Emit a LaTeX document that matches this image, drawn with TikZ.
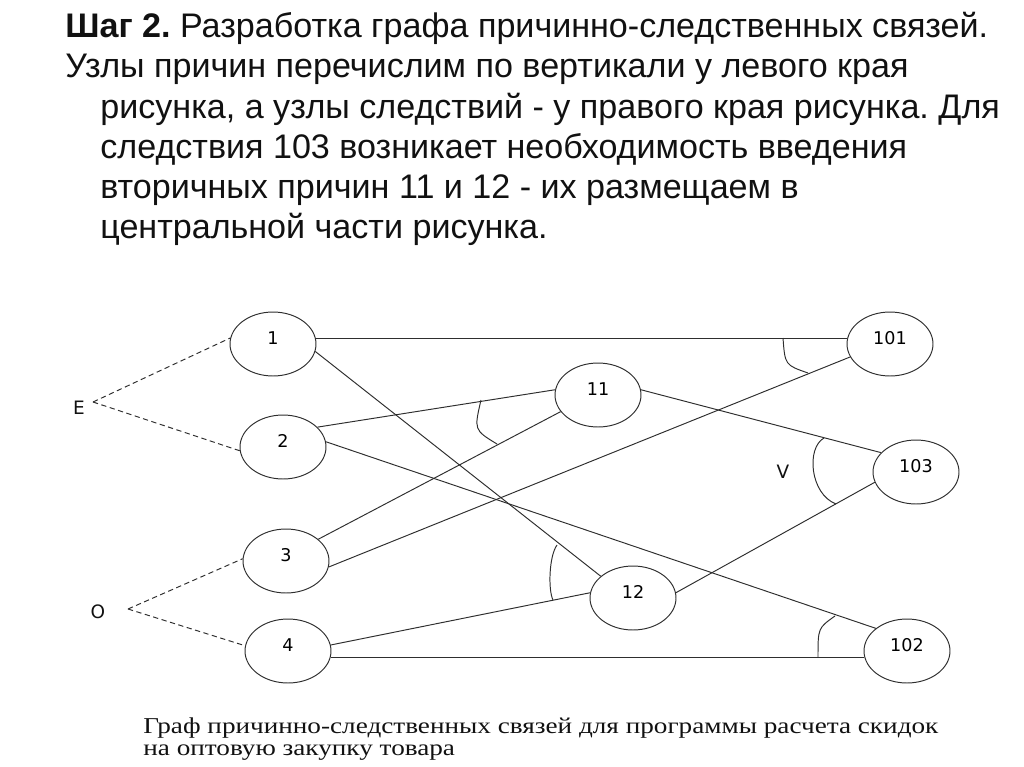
\documentclass[tikz,border=0pt]{standalone}
\usepackage{fontspec}
\setmainfont{Liberation Sans}
\newfontfamily\capfont{Liberation Serif}
\newfontfamily\numfont{DejaVu Sans}
\usepackage{graphicx}
\usepackage{tikz}
\usepackage{xcolor}
\usetikzlibrary{shapes.geometric}
\definecolor{ink}{HTML}{111111}
\definecolor{inkgray}{HTML}{2E2E2E}
\frenchspacing
\newcommand{\wideline}[1]{\scalebox{1.2}[1]{#1}}
\tikzset{
  causenode/.style={ellipse,draw=inkgray,line width=0.55pt,
                    minimum width=1.72cm,minimum height=1.28cm,inner sep=0pt,
                    font=\numfont\fontsize{10}{12}\selectfont,
                    text height=7.3pt,text depth=6.8pt},
  linkline/.style={draw=inkgray,line width=0.55pt},
  dashlink/.style={draw=inkgray,line width=0.55pt,dash pattern=on 3pt off 2pt},
  andarc/.style={draw=inkgray,line width=0.55pt},
  marklabel/.style={font=\numfont\fontsize{10.5}{12}\selectfont,inner sep=0pt,text=ink},
  headline/.style={anchor=base west,inner sep=0pt,text=ink,
                   font=\fontsize{19.4}{23}\selectfont},
  capline/.style={anchor=base west,inner sep=0pt,text=ink,
                  font=\capfont\fontsize{12.9}{15}\selectfont}
}

\begin{document}
\begin{tikzpicture}[x=0.02cm,y=-0.02cm]
  \useasboundingbox (0,0) rectangle (1024,767);
  % heading text
  \node[headline] (h1) at (65,38) {\textbf{Шаг 2.} Разработка графа причинно-следственных связей.};
  \node[headline] (h2) at (65,78) {Узлы причин перечислим по вертикали у левого края};
  \node[headline] (h3) at (100,118) {рисунка, а узлы следствий - у правого края рисунка. Для};
  \node[headline] (h4) at (100,158) {следствия 103 возникает необходимость введения};
  \node[headline] (h5) at (100,198) {вторичных причин 11 и 12 - их размещаем в};
  \node[headline] (h6) at (100,238) {центральной части рисунка.};

  % causes (left), secondary causes (middle), effects (right)
  \node[causenode] (n1) at (273,344) {1};
  \node[causenode] (n2) at (283,447) {2};
  \node[causenode] (n3) at (286,561) {3};
  \node[causenode] (n4) at (288,651) {4};
  \node[causenode] (n11) at (598,395) {11};
  \node[causenode] (n12) at (633,598) {12};
  \node[causenode] (n101) at (890,344) {101};
  \node[causenode] (n103) at (916,472) {103};
  \node[causenode] (n102) at (907,651) {102};

  % constraint marks
  \node[marklabel] (lE) at (79,408) {E};
  \node[marklabel] (lO) at (98,612) {O};
  \node[marklabel] (lV) at (783,472) {V};
  \coordinate (e0) at (93,402);
  \coordinate (o0) at (128,609);
  \draw[dashlink] (e0) -- (n1.172);
  \draw[dashlink] (e0) -- (n2.185);
  \draw[dashlink] (o0) -- (n3.177);
  \draw[dashlink] (o0) -- (n4.173);

  % links
  \draw[linkline] (n1.8) -- (n101.172);
  \draw[linkline] (n1.350) -- (n12.146);
  \draw[linkline] (n2.30) -- (n11.173);
  \draw[linkline] (n2.7) -- (n102.144);
  \draw[linkline] (n3.34) -- (n11.204);
  \draw[linkline] (n3.352) -- (n101.198);
  \draw[linkline] (n4.8) -- (n12.173);
  \draw[linkline] (n4.352) -- (n102.188);
  \draw[linkline] (n11.7) -- (n103.151);
  \draw[linkline] (n12.7) -- (n103.194);

  % AND arcs
  \draw[andarc] (783,338) .. controls (785,365) .. (808,373);
  \draw[andarc] (481,400) .. controls (474,430) .. (497,444);
  \draw[andarc] (824,438) .. controls (806,448) and (810,494) .. (836,504);
  \draw[andarc] (557,545) .. controls (549,556) and (548,590) .. (553,600);
  \draw[andarc] (835,616) .. controls (818,628) .. (818,657);

  % caption
  \node[capline] (c1) at (143,733) {\wideline{Граф причинно-следственных связей для программы расчета скидок}};
  \node[capline] (c2) at (143,755) {\wideline{на оптовую закупку товара}};
\end{tikzpicture}
\end{document}
